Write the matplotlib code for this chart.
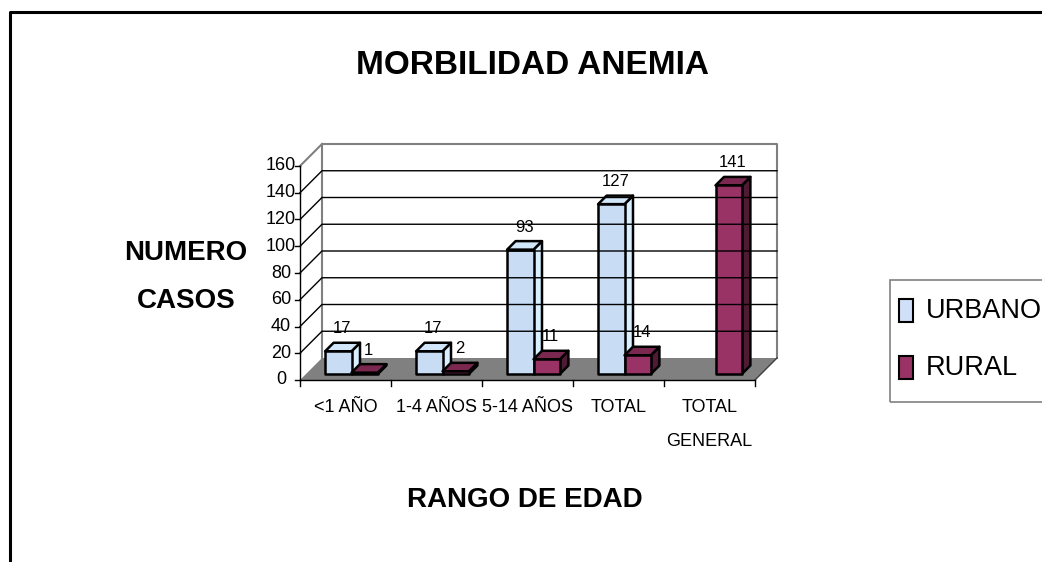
import matplotlib.pyplot as plt
from matplotlib.patches import Polygon, Rectangle
from matplotlib.lines import Line2D

plt.rcParams['font.family'] = ['Liberation Sans', 'DejaVu Sans']

categories = ['<1 AÑO', '1-4 AÑOS', '5-14 AÑOS', 'TOTAL', 'TOTAL\nGENERAL']
urbano = [17, 17, 93, 127, 0]
rural = [1, 2, 11, 14, 141]
yticks = [0, 20, 40, 60, 80, 100, 120, 140, 160]
series = ['URBANO', 'RURAL']

W, H = 1042, 562
fig = plt.figure(figsize=(W / 100, H / 100), dpi=100)
ax = fig.add_axes([300 / W, 182 / H, 455 / W, 214 / H])
ax.set_xlim(0, 5)
ax.set_ylim(0, 160)
ax.axis('off')

# pixels per data unit, used for the fake 3d depth
sx = 455 / 5
sy = 214 / 160
DX, DY = 22 / sx, 22 / sy
f0, f1 = 6 / 22, 14.5 / 22
ncat = len(categories)
top = yticks[-1]

# floor, side wall and back wall
ax.add_patch(Polygon([(0, 0), (ncat, 0), (ncat + DX, DY), (DX, DY)],
                     closed=True, fc='#808080', ec='none', clip_on=False))
ax.add_line(Line2D([DX, DX, ncat + DX, ncat + DX], [DY, top + DY, top + DY, DY],
                   color='#808080', lw=1.5, clip_on=False))
ax.add_line(Line2D([0, DX], [top, top + DY], color='#808080', lw=1.5, clip_on=False))
for yt in yticks[1:-1]:
    ax.add_line(Line2D([0, DX, ncat + DX], [yt, yt + DY, yt + DY],
                       color='black', lw=1, clip_on=False))
ax.add_line(Line2D([ncat, ncat + DX], [0, DY], color='#404040', lw=1, clip_on=False))

# front axes
ax.add_line(Line2D([0, 0], [0, top], color='black', lw=1, clip_on=False))
ax.add_line(Line2D([0, ncat], [0, 0], color='black', lw=1, clip_on=False))
for yt in yticks:
    ax.add_line(Line2D([-5 / sx, 0], [yt, yt], color='black', lw=1, clip_on=False))
    ax.text(-19 / sx, yt, str(yt), ha='center', va='center', fontsize=13)
for i in range(ncat + 1):
    ax.add_line(Line2D([i, i], [0, -6 / sy], color='black', lw=1, clip_on=False))
for i, lab in enumerate(categories):
    for j, line in enumerate(lab.split('\n')):
        ax.text(i + 0.5, -(27 + 34 * j) / sy, line, ha='center', va='center', fontsize=13)


def bar3d(x0, w, v, front, topc, side):
    if v == 0:
        return
    xl, yb = x0 + f0 * DX, f0 * DY
    ddx, ddy = (f1 - f0) * DX, (f1 - f0) * DY
    kw = dict(closed=True, ec='black', lw=1.8, clip_on=False, joinstyle='round')
    ax.add_patch(Polygon([(xl + w, yb), (xl + w + ddx, yb + ddy),
                          (xl + w + ddx, yb + v + ddy), (xl + w, yb + v)], fc=side, **kw))
    ax.add_patch(Polygon([(xl, yb + v), (xl + w, yb + v),
                          (xl + w + ddx, yb + v + ddy), (xl + ddx, yb + v + ddy)], fc=topc, **kw))
    ax.add_patch(Polygon([(xl, yb), (xl + w, yb), (xl + w, yb + v), (xl, yb + v)], fc=front, **kw))
    ax.text(xl + w / 2 + 4 / sx, yb + v + 15 / sy, str(v), ha='center', va='bottom', fontsize=12)


bw = 0.29
for i in range(ncat):
    bar3d(i + 0.21, bw, urbano[i], '#C8DCF4', '#D2E6F9', '#D8F0FF')
    bar3d(i + 0.50, bw, rural[i], '#993366', '#7A2850', '#4F1A33')

# texts
fig.text(533 / W, 1 - 65 / H, 'MORBILIDAD ANEMIA', ha='center', va='center',
         fontsize=24, fontweight='bold')
fig.text(186 / W, 1 - 253 / H, 'NUMERO', ha='center', va='center', fontsize=20, fontweight='bold')
fig.text(186 / W, 1 - 301 / H, 'CASOS', ha='center', va='center', fontsize=20, fontweight='bold')
fig.text(525 / W, 1 - 500 / H, 'RANGO DE EDAD', ha='center', va='center',
         fontsize=20, fontweight='bold')

# legend
fig.add_artist(Rectangle((890 / W, 1 - 402 / H), 160 / W, 122 / H, transform=fig.transFigure,
                         fill=False, ec='#808080', lw=1.2))
for k, (name, col) in enumerate(zip(series, ['#D0E0F8', '#993366'])):
    yc = 311 + 57 * k
    fig.add_artist(Rectangle((899 / W, 1 - (yc + 11) / H), 14 / W, 23 / H,
                             transform=fig.transFigure, fc=col, ec='black', lw=1.5))
    fig.text(926 / W, 1 - yc / H, name, ha='left', va='center', fontsize=19.5)

# outer frame
fig.add_artist(Line2D([10 / W, 10 / W, 1.0], [0, 1 - 11.5 / H, 1 - 11.5 / H],
                      transform=fig.transFigure, color='black', lw=2.2))

fig.savefig('out.png', dpi=100)
